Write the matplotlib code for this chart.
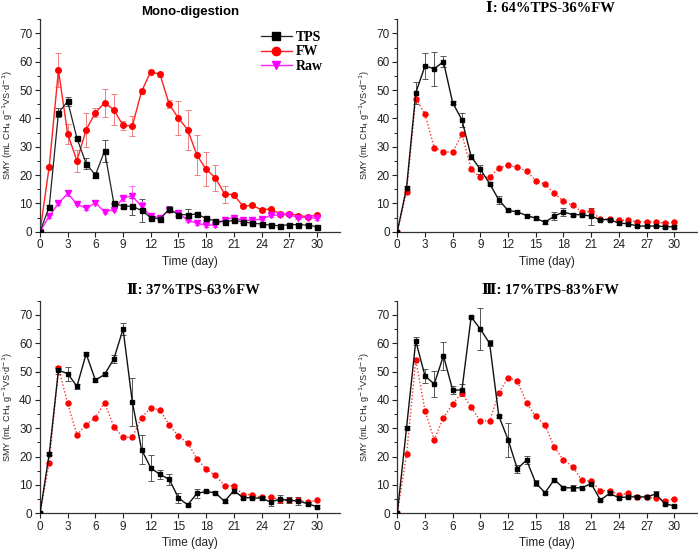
import matplotlib.pyplot as plt
from matplotlib.ticker import MultipleLocator

plt.rcParams['font.family'] = ['Liberation Sans', 'DejaVu Sans']

days = list(range(31))

# Mono-digestion
mono_tps = [0, 8.8, 42, 46, 33, 24, 20, 28.5, 10, 9, 9, 7.5, 5, 4.5, 8, 6, 6, 6.2, 4.7, 3.8,
            3.5, 4, 3.5, 3, 2.7, 2.3, 2.1, 2.5, 2.5, 2.3, 1.8]
mono_tps_err = [0, 0.5, 1.5, 1.5, 0.5, 2, 1, 4, 0.3, 0.5, 3, 4, 0.5, 0.5, 1, 0.5, 2, 0.5, 0.5, 0.3,
                0.3, 0.3, 0.3, 0.3, 0.3, 0.3, 0.3, 0.3, 0.3, 0.3, 0.3]
mono_fw = [0, 23, 57, 34.5, 25, 36, 42, 45.5, 43, 37.5, 37.3, 49.5, 56.5, 55.5, 45, 40, 36, 27, 22, 19,
           13.3, 13, 9, 9.3, 7.7, 8, 6.2, 6.3, 5.7, 5.3, 5.8]
mono_fw_err = [0, 0.5, 6, 3.5, 4, 6, 1.5, 5, 5.5, 1.5, 3.5, 1, 0.5, 1, 1.5, 6, 7, 7, 6, 4.5,
               3, 0.5, 0.5, 0.5, 0.5, 0.5, 0.5, 0.5, 0.5, 0.5, 0.5]
mono_raw = [0, 5.5, 10, 13.5, 9.8, 8.2, 10.2, 7, 7.8, 12, 12.5, 9, 5.5, 5, 7.5, 6.5, 4, 3, 2.3, 2.3,
            4.3, 5, 4, 4, 4.5, 5.8, 5.8, 6, 5, 5, 4.7]
mono_raw_err = [0, 0.5, 0.5, 1, 0.5, 0.5, 0.5, 0.5, 0.5, 1, 3.5, 1.5, 0.5, 0.5, 0.5, 0.5, 0.5, 0.5, 0.5, 0.5,
                0.5, 0.5, 0.5, 0.5, 0.5, 0.5, 0.5, 0.5, 0.5, 0.5, 0.5]

# I: 64%TPS-36%FW
c1_tps = [0, 15.5, 49, 58.5, 57.5, 60, 45.5, 39.5, 26.5, 22, 17, 11.2, 7.5, 7, 5.7, 4.8, 3.3, 5.5, 7, 6,
          6, 5.5, 4.2, 4.3, 3, 2.8, 2, 2, 2, 1.8, 1.7]
c1_tps_err = [0, 0.5, 4, 4.5, 6, 2, 0.5, 2.5, 1, 1.5, 0.5, 1.5, 0.5, 0.5, 0.5, 0.5, 0.5, 1.5, 1.5, 0.5,
              0.5, 3, 0.5, 0.5, 0.5, 0.5, 0.5, 0.5, 0.5, 0.5, 0.5]
c1_fw = [0, 14, 47, 41.5, 29.7, 28.3, 28, 34.5, 22, 19.2, 19.2, 22.5, 23.4, 22.7, 21.5, 18, 16.8, 13.6, 10.8, 9.3,
         7, 7.2, 4.5, 4.5, 4, 4, 3.5, 3.5, 3.5, 3, 3.4]

# II: 37%TPS-63%FW
c2_tps = [0, 21, 50.5, 49.3, 44.8, 56.3, 47, 49, 54.5, 65, 39.3, 22.5, 16, 13.7, 12, 5.4, 3, 7, 7.7, 7.2,
          4.2, 8, 5.5, 5.5, 5.3, 4, 5, 4.6, 4.3, 3.4, 2.3]
c2_tps_err = [0, 0.5, 1.5, 2.5, 1, 0.5, 0.7, 0.5, 1.5, 2, 8.5, 5, 4.5, 1.5, 2, 1.8, 0.5, 1.5, 0.5, 0.5,
              0.5, 1, 0.5, 0.5, 0.5, 1.5, 1.5, 1, 1.5, 0.5, 0.5]
c2_fw = [0, 17.8, 51.2, 38.8, 27.7, 31.3, 33.8, 39, 30.6, 26.8, 26.8, 33.8, 37.2, 36.4, 31.2, 27.2, 24.8, 19.3, 15.5, 13.4,
         9.8, 9.7, 6.6, 6.6, 5.6, 5.9, 4.6, 4.6, 4.6, 3.9, 4.6]

# III: 17%TPS-83%FW
c3_tps = [0, 30.2, 60.8, 48.5, 45.6, 55.6, 43.5, 43.5, 69.3, 65, 60, 34.3, 26, 15.7, 18.8, 10.7, 7.3, 11.8, 9, 9,
          9, 10.5, 4.7, 7, 5.5, 5.8, 5.8, 5.8, 6.8, 3.4, 2.6]
c3_tps_err = [0, 0.5, 1.5, 2.5, 4.5, 5, 1.5, 2, 0.5, 7.5, 1, 0.5, 6, 1.5, 1.5, 1, 0.5, 0.5, 0.5, 1,
              0.5, 0.5, 0.5, 0.5, 0.5, 0.5, 0.5, 0.5, 1, 0.5, 0.5]
c3_fw = [0, 20.8, 54.2, 36.2, 26, 33.8, 38.6, 42.5, 37.4, 32.6, 32.6, 42.5, 47.8, 46.8, 39, 34.2, 31.1, 23.4, 18.8, 16.5,
         11.6, 11.4, 7.9, 8, 6.6, 7, 5.6, 5.6, 5.4, 4.3, 5.2]

fig = plt.figure(figsize=(6.98, 5.49), dpi=100)

W = 300 / 698
H = 212.5 / 549
positions = [
    (40 / 698, (549 - 231.7) / 549),
    (397.3 / 698, (549 - 231.7) / 549),
    (40 / 698, (549 - 513.3) / 549),
    (397.3 / 698, (549 - 513.3) / 549),
]
axes = [fig.add_axes([x, y, W, H]) for x, y in positions]


def style_axis(ax):
    ax.set_xlim(0, 32.5)
    ax.set_ylim(0, 75)
    ax.set_xticks(range(0, 31, 3))
    ax.set_yticks(range(0, 71, 10))
    ax.yaxis.set_minor_locator(MultipleLocator(5))
    ax.spines['top'].set_visible(False)
    ax.spines['right'].set_visible(False)
    for s in ['left', 'bottom']:
        ax.spines[s].set_linewidth(0.9)
        ax.spines[s].set_color('#333333')
    ax.tick_params(which='major', direction='out', length=3.5, width=0.8, labelsize=8.5,
                   colors='#222222', pad=2)
    ax.tick_params(which='minor', direction='out', length=2, width=0.6)
    ax.set_xlabel('Time (day)', fontsize=8.5, labelpad=3, color='#222222')
    ax.set_ylabel(r'SMY (mL CH$_4$ g$^{-1}$VS$\cdot$d$^{-1}$)', fontsize=6.6, labelpad=3,
                  color='#222222')


# Mono-digestion
ax = axes[0]
ax.errorbar(days, mono_tps, yerr=mono_tps_err, fmt='none', ecolor='#555555', elinewidth=0.7,
            capsize=2.5, capthick=0.7, zorder=1)
ax.errorbar(days, mono_fw, yerr=mono_fw_err, fmt='none', ecolor='#f08080', elinewidth=0.7,
            capsize=2.5, capthick=0.7, zorder=1)
ax.errorbar(days, mono_raw, yerr=mono_raw_err, fmt='none', ecolor='#ff66ff', elinewidth=0.7,
            capsize=2.5, capthick=0.7, zorder=1)
ax.plot(days, mono_tps, color='#222222', lw=0.9, marker='s', ms=3.6, mfc='black', mec='black',
        label='TPS', zorder=3)
ax.plot(days, mono_fw, color='#ff2020', lw=1.0, marker='o', ms=4.0, mfc='#ff0000', mec='#ff0000',
        label='FW', zorder=2)
ax.plot(days, mono_raw, color='#ff22ff', lw=1.0, marker='v', ms=4.0, mfc='#ff00ff', mec='#ff00ff',
        label='Raw', zorder=2)
ax.legend(loc='upper right', bbox_to_anchor=(0.97, 0.985), frameon=False, handlelength=2.2,
          handletextpad=0.3, labelspacing=0.12, borderaxespad=0.2, markerscale=1.5,
          prop={'family': 'Liberation Serif', 'weight': 'bold', 'size': 10})
ax.set_title('Mono-digestion', fontsize=9.5, fontweight='bold', pad=3, x=0.5)

co_sets = [
    (axes[1], c1_tps, c1_tps_err, c1_fw, 'Ⅰ: 64%TPS-36%FW'),
    (axes[2], c2_tps, c2_tps_err, c2_fw, 'Ⅱ: 37%TPS-63%FW'),
    (axes[3], c3_tps, c3_tps_err, c3_fw, 'Ⅲ: 17%TPS-83%FW'),
]
for ax, tps, tps_err, fw, title in co_sets:
    ax.errorbar(days, tps, yerr=tps_err, fmt='none', ecolor='#555555', elinewidth=0.7,
                capsize=2.5, capthick=0.7, zorder=1)
    ax.plot(days, fw, color='#ff3030', lw=1.0, ls=(0, (1, 1.5)), marker='o', ms=3.6,
            mfc='#ff0000', mec='#ff0000', zorder=2)
    ax.plot(days, tps, color='#111111', lw=1.0, marker='s', ms=3.4, mfc='black', mec='black',
            zorder=3)
    ax.set_title(title, fontsize=10.5, fontweight='bold', pad=5, x=0.51,
                 family=['Liberation Serif', 'DejaVu Serif'])

for ax in axes:
    style_axis(ax)

fig.savefig('out.png', dpi=100)
